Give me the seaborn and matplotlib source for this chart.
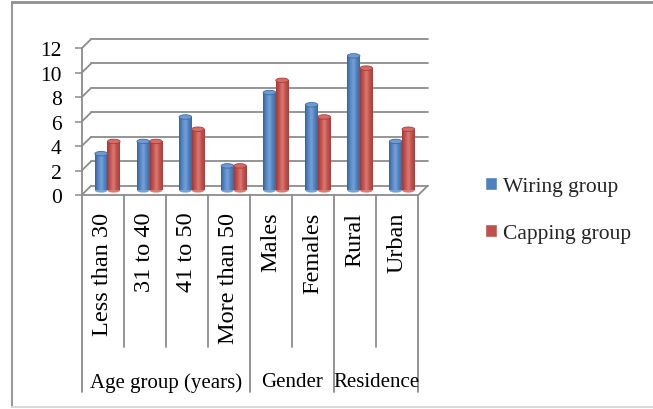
import numpy as np
import pandas as pd
import matplotlib
matplotlib.use("Agg")
import matplotlib.pyplot as plt
import seaborn as sns
from matplotlib.transforms import blended_transform_factory
from matplotlib.patches import Patch, Ellipse
from matplotlib.lines import Line2D
from matplotlib.colors import LinearSegmentedColormap

# ---------------- data ----------------
categories = ["Less than 30", "31 to 40", "41 to 50", "More than 50",
              "Males", "Females", "Rural", "Urban"]
wiring = [3, 4, 6, 2, 8, 7, 11, 4]
capping = [4, 4, 5, 2, 9, 6, 10, 5]
series_names = ["Wiring group", "Capping group"]
groups = ["Age group (years)", "Gender", "Residence"]
group_sizes = [4, 2, 2]
yticks = [0, 2, 4, 6, 8, 10, 12]

# ---------------- style ----------------
W, H, DPI = 653, 410, 100
BLUE, RED = "#4F81BD", "#C0504D"
GRID = "#8C8C8C"
sns.set_theme(style="white")
plt.rcParams["font.family"] = ["Liberation Serif", "DejaVu Serif"]

fig = plt.figure(figsize=(W / DPI, H / DPI), dpi=DPI)
fig.patch.set_facecolor("white")


def px(x0, y0, x1, y1):
    return [x0 / W, 1 - y1 / H, (x1 - x0) / W, (y1 - y0) / H]


# front plane of the 3-D box
FX0, FY0, FX1, FY1 = 81.7, 49.3, 418.3, 196.0
ax = fig.add_axes(px(FX0, FY0, FX1, FY1))
ax.set_facecolor("none")

df = pd.DataFrame({
    "category": categories * 2,
    "value": wiring + capping,
    "series": [series_names[0]] * len(categories) + [series_names[1]] * len(categories),
})
sns.barplot(data=df, x="category", y="value", hue="series",
            palette=[BLUE, RED], width=0.6, dodge=True, legend=False,
            saturation=1, edgecolor="none", linewidth=0, ax=ax)

ax.set_xlim(-0.5, len(categories) - 0.5)
ax.set_ylim(0, max(yticks))

# depth offset (pixels) converted to data units
ux = (FX1 - FX0) / len(categories)
uy = (FY1 - FY0) / max(yticks)
ddx, ddy = 9.5 / ux, 9.3 / uy

# back wall gridlines + diagonals
x_left, x_right = -0.5, len(categories) - 0.5
for y in yticks:
    ax.plot([x_left + ddx, x_right + ddx], [y + ddy, y + ddy], color=GRID,
            lw=1.3, clip_on=False, zorder=0.5)
    ax.plot([x_left, x_left + ddx], [y, y + ddy], color=GRID, lw=1.3,
            clip_on=False, zorder=0.5)
ax.plot([x_right, x_right + ddx], [0, ddy], color=GRID, lw=1.3,
        clip_on=False, zorder=0.5)

# cylinders: move bars to mid-depth, add shading and caps
cmaps = {
    BLUE: LinearSegmentedColormap.from_list("b", ["#34649E", "#5587C4", "#77A2D8", "#4F81BD", "#3A6AA6"]),
    RED: LinearSegmentedColormap.from_list("r", ["#A03936", "#C4534E", "#DA7A73", "#C0504D", "#A63F3C"]),
}
caps = {BLUE: "#6E9AD2", RED: "#D66B65"}
grad = np.linspace(0, 1, 64).reshape(1, -1)
cap_h = 4.5 / uy
bars = [p for p in ax.patches]
n = len(categories)
for i, p in enumerate(bars):
    col = BLUE if i < n else RED
    p.set_x(p.get_x() + ddx / 2)
    p.set_y(ddy / 2)
    x0, w, h = p.get_x(), p.get_width(), p.get_height()
    p.set_facecolor(col)
    im = ax.imshow(grad, cmap=cmaps[col], aspect="auto",
                   extent=(x0, x0 + w, ddy / 2, ddy / 2 + h), zorder=2,
                   interpolation="bilinear")
    im.set_clip_path(p)
    ax.add_patch(Ellipse((x0 + w / 2, ddy / 2), w, cap_h, facecolor=cmaps[col](0.5),
                         edgecolor="none", zorder=1.9, clip_on=False))
    ax.add_patch(Ellipse((x0 + w / 2, ddy / 2 + h), w, cap_h, facecolor=caps[col],
                         edgecolor=cmaps[col](0.05), lw=0.6, zorder=3, clip_on=False))

ax.set_xlim(-0.5, len(categories) - 0.5)
ax.set_ylim(0, max(yticks))

# axes styling
for s in ["top", "right"]:
    ax.spines[s].set_visible(False)
for s in ["left", "bottom"]:
    ax.spines[s].set_color(GRID)
    ax.spines[s].set_linewidth(1.3)
ax.set_yticks(yticks)
ax.set_yticklabels([str(v) for v in yticks])
ax.tick_params(axis="y", direction="out", length=5, width=1.1, color=GRID,
               pad=9.5, labelsize=15.5, labelcolor="black", left=True)
ax.set_xticks(range(len(categories)))
ax.set_xticklabels(categories, rotation=90, fontsize=17.5, color="black")
ax.tick_params(axis="x", length=0, pad=12)
ax.set_xlabel("")
ax.set_ylabel("")

# category separators & group labels
bt = blended_transform_factory(ax.transData, fig.transFigure)
bounds = np.cumsum([0] + group_sizes) - 0.5
for k in range(len(categories) + 1):
    xb = k - 0.5
    y_end = 393 if xb in bounds else 348
    ax.plot([xb, xb], [1 - FY1 / H, 1 - y_end / H], color=GRID, lw=1.3,
            transform=bt, clip_on=False)
for gi, g in enumerate(groups):
    cx = (bounds[gi] + bounds[gi + 1]) / 2
    ax.text(cx, 1 - 383 / H, g, transform=bt, ha="center", va="center",
            fontsize=15, color="black")

# legend
handles = [Patch(facecolor=BLUE), Patch(facecolor=RED)]
fig.legend(handles, series_names, loc="center left",
           bbox_to_anchor=(474 / W, 1 - 211 / H), frameon=False, fontsize=15.5,
           handlelength=0.55, handleheight=0.55, handletextpad=0.3,
           labelspacing=1.3, borderpad=0)

# outer frame
fig.add_artist(Line2D([11.5 / W, 11.5 / W], [1 - 3 / H, 1 - 408 / H],
                      transform=fig.transFigure, color="#9A9A9A", lw=1.5))
fig.add_artist(Line2D([11.5 / W, 1], [1 - 3 / H, 1 - 3 / H],
                      transform=fig.transFigure, color="#8F8F8F", lw=2))
fig.add_artist(Line2D([11.5 / W, 1], [1 - 408 / H, 1 - 408 / H],
                      transform=fig.transFigure, color="#D9D9D9", lw=1.5))

fig.savefig("out.png", dpi=DPI)
